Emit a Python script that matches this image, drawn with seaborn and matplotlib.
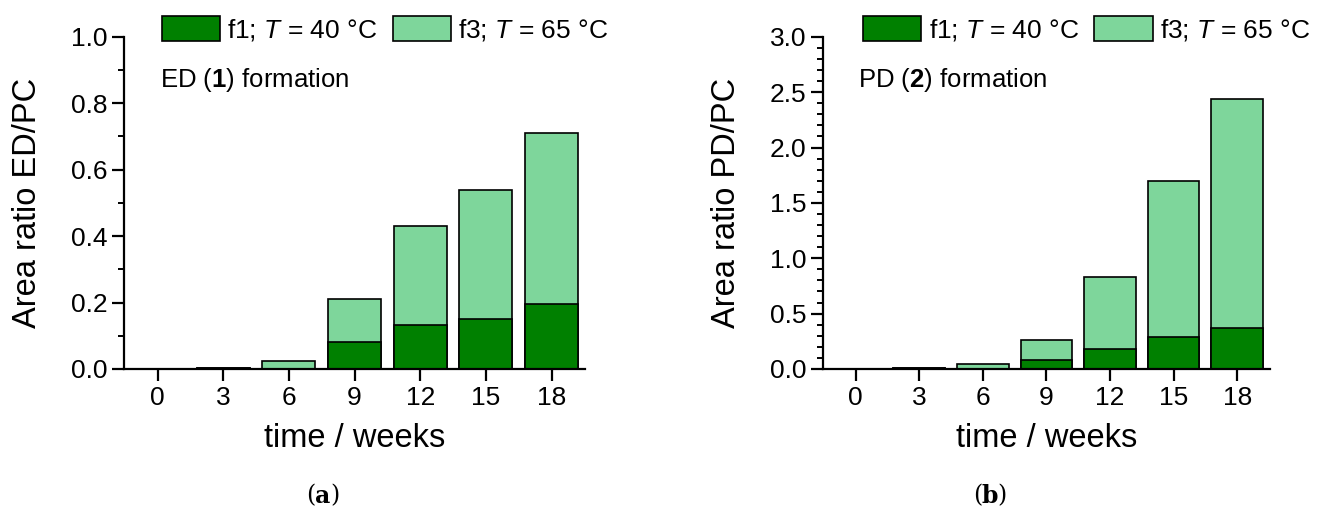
import matplotlib
matplotlib.use("Agg")
import matplotlib.pyplot as plt
from matplotlib.patches import Patch
from matplotlib.ticker import MultipleLocator, FormatStrFormatter
import seaborn as sns
import pandas as pd

# Sampling times (weeks)
weeks = [0, 3, 6, 9, 12, 15, 18]

# Area ratio ED/PC
ed_f1_40C = [0.0, 0.003, 0.0, 0.081, 0.131, 0.149, 0.196]
ed_f3_65C = [0.0, 0.004, 0.025, 0.210, 0.430, 0.538, 0.710]

# Area ratio PD/PC
pd_f1_40C = [0.0, 0.008, 0.0, 0.082, 0.180, 0.290, 0.370]
pd_f3_65C = [0.0, 0.010, 0.048, 0.260, 0.830, 1.700, 2.440]

legend_labels = ["f1; $\\mathit{T}$ = 40 °C", "f3; $\\mathit{T}$ = 65 °C"]

DARK = "#008000"
LIGHT = "#7ED69B"

sns.set_theme(style="ticks")
plt.rcParams["font.family"] = ["Liberation Sans", "DejaVu Sans"]
plt.rcParams["mathtext.fontset"] = "custom"
plt.rcParams["mathtext.rm"] = "Liberation Sans"
plt.rcParams["mathtext.it"] = "Liberation Sans:italic"
plt.rcParams["mathtext.bf"] = "Liberation Sans:bold"
plt.rcParams["text.color"] = "black"
plt.rcParams["axes.labelcolor"] = "black"

fig = plt.figure(figsize=(13.17, 5.11), dpi=100)
ax_a = fig.add_axes([0.0942, 0.278, 0.350, 0.650])
ax_b = fig.add_axes([0.625, 0.278, 0.339, 0.650])


def draw_panel(ax, f1, f3, ymax, major, minor, ylabel, note, legend_x):
    df = pd.DataFrame({"week": [str(w) for w in weeks], "f1": f1, "f3": f3})
    order = [str(w) for w in weeks]
    sns.barplot(data=df, x="week", y="f3", order=order, color=LIGHT,
                saturation=1, edgecolor="black", linewidth=1.2, width=0.81, ax=ax)
    sns.barplot(data=df, x="week", y="f1", order=order, color=DARK,
                saturation=1, edgecolor="black", linewidth=1.2, width=0.81, ax=ax)
    ax.set_xlim(-0.51, len(weeks) - 0.49)
    ax.set_ylim(0, ymax)
    ax.yaxis.set_major_locator(MultipleLocator(major))
    ax.yaxis.set_minor_locator(MultipleLocator(minor))
    ax.yaxis.set_major_formatter(FormatStrFormatter("%.1f"))
    ax.set_xlabel("time / weeks", fontsize=23.5, labelpad=10, color="black")
    ax.set_ylabel(ylabel, fontsize=23.5, labelpad=20, color="black")
    for side in ("top", "right"):
        ax.spines[side].set_visible(False)
    for side in ("left", "bottom"):
        ax.spines[side].set_linewidth(1.6)
        ax.spines[side].set_color("black")
    ax.tick_params(axis="both", which="major", direction="out", length=8.5,
                   width=1.6, labelsize=19, colors="black", pad=3.5)
    ax.tick_params(axis="y", which="minor", direction="out", length=4.5,
                   width=1.4, colors="black")
    ax.text(0.078, 0.87, note, transform=ax.transAxes, fontsize=18.5,
            ha="left", va="center", color="black")
    handles = [Patch(facecolor=DARK, edgecolor="black", linewidth=1.2),
               Patch(facecolor=LIGHT, edgecolor="black", linewidth=1.2)]
    leg = ax.legend(handles, legend_labels, ncol=2, loc="center",
                    bbox_to_anchor=(legend_x, 1.022), frameon=False, fontsize=19,
                    handlelength=2.2, handleheight=1.1, handletextpad=0.27,
                    columnspacing=0.6, borderaxespad=0, borderpad=0)
    for t in leg.get_texts():
        t.set_color("black")


draw_panel(ax_a, ed_f1_40C, ed_f3_65C, 1.0, 0.2, 0.1,
           "Area ratio ED/PC", "ED ($\\mathbf{1}$) formation", 0.566)
draw_panel(ax_b, pd_f1_40C, pd_f3_65C, 3.0, 0.5, 0.1,
           "Area ratio PD/PC", "PD ($\\mathbf{2}$) formation", 0.59)

# Panel captions
for cx, letter in ((323 / 1317, "a"), (990 / 1317, "b")):
    y = 1 - 496 / 511
    fig.text(cx, y, letter, fontsize=17, fontweight="bold",
             family="DejaVu Serif", ha="center", va="center")
    fig.text(cx - 0.0058, y, "(", fontsize=17, family="DejaVu Serif",
             ha="right", va="center")
    fig.text(cx + 0.0058, y, ")", fontsize=17, family="DejaVu Serif",
             ha="left", va="center")

fig.savefig("out.png", dpi=100, facecolor="white")
